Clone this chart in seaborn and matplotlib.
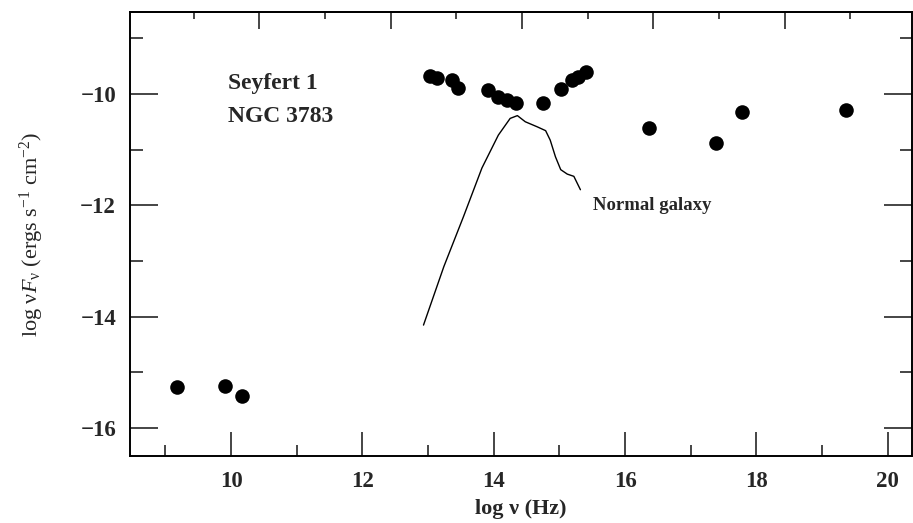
import matplotlib
matplotlib.use("Agg")
import matplotlib.pyplot as plt
from matplotlib.ticker import MultipleLocator, NullFormatter, FixedLocator
import seaborn as sns
import pandas as pd

# Observed SED points of NGC 3783
log_nu = [9.18, 9.91, 10.17,
          13.03, 13.14, 13.36, 13.46, 13.91, 14.07, 14.20, 14.34, 14.75,
          15.03, 15.19, 15.29, 15.40,
          16.37, 17.38, 17.78, 19.37]
log_nuFnu = [-15.26, -15.24, -15.42,
             -9.67, -9.72, -9.75, -9.90, -9.93, -10.05, -10.11, -10.16, -10.16,
             -9.92, -9.75, -9.69, -9.60,
             -10.62, -10.89, -10.33, -10.29]

# Normal galaxy template curve
gal_nu = [12.93, 13.24, 13.54, 13.82, 14.07, 14.25, 14.36, 14.48, 14.66, 14.79,
          14.86, 14.94, 15.02, 15.12, 15.22, 15.32]
gal_flux = [-14.15, -13.10, -12.20, -11.33, -10.74, -10.44, -10.39, -10.50, -10.59,
            -10.66, -10.83, -11.13, -11.36, -11.44, -11.48, -11.72]

x_ticks = [10, 12, 14, 16, 18, 20]
y_ticks = [-10, -12, -14, -16]

pts = pd.DataFrame({"x": log_nu, "y": log_nuFnu})
gal = pd.DataFrame({"x": gal_nu, "y": gal_flux})

sns.set_theme(style="ticks")
plt.rcParams["font.family"] = ["Liberation Serif", "DejaVu Serif"]
plt.rcParams["mathtext.fontset"] = "custom"
plt.rcParams["mathtext.rm"] = "Liberation Serif"
plt.rcParams["mathtext.it"] = "Liberation Serif:italic"
plt.rcParams["mathtext.bf"] = "Liberation Serif:bold"
plt.rcParams["axes.unicode_minus"] = True

fig = plt.figure(figsize=(9.13, 5.23), dpi=100)
ax = fig.add_axes([130 / 913, 1 - 456 / 523, (912 - 130) / 913, (456 - 12) / 523])

sns.lineplot(data=gal, x="x", y="y", sort=False, estimator=None, color="black",
             linewidth=1.0, ax=ax)
sns.scatterplot(data=pts, x="x", y="y", color="black", s=110, edgecolor="black",
                linewidth=0, ax=ax)

ax.set_xlim(8.46, 20.37)
ax.set_ylim(-16.5, -8.53)
ax.set_xticks(x_ticks)
ax.set_yticks(y_ticks)
ax.xaxis.set_minor_locator(MultipleLocator(1))
ax.yaxis.set_minor_locator(MultipleLocator(1))
ax.set_xticklabels([str(v) for v in x_ticks], fontweight="bold", fontsize=16.5)
ax.set_yticklabels(["\u2212" + str(abs(v)) for v in y_ticks], fontweight="bold",
                   fontsize=16.5)

ax.tick_params(axis="x", which="major", direction="in", length=17, width=1.2,
               pad=11, top=False, bottom=True)
ax.tick_params(axis="x", which="minor", direction="in", length=8, width=1.2,
               top=False, bottom=True)
ax.tick_params(axis="y", which="major", direction="in", length=20, width=1.2,
               pad=10, left=True, right=True)
ax.tick_params(axis="y", which="minor", direction="in", length=9, width=1.2,
               left=True, right=True)

# top axis ticks (offset in the original scan)
sec = ax.secondary_xaxis("top", functions=(lambda v: v - 0.43, lambda v: v + 0.43))
sec.xaxis.set_major_locator(FixedLocator([8, 10, 12, 14, 16, 18, 20]))
sec.xaxis.set_minor_locator(FixedLocator([9, 11, 13, 15, 17, 19]))
sec.xaxis.set_major_formatter(NullFormatter())
sec.tick_params(axis="x", which="major", direction="in", length=12, width=1.2)
sec.tick_params(axis="x", which="minor", direction="in", length=5, width=1.2)

for s in ax.spines.values():
    s.set_linewidth(1.4)
    s.set_color("black")
for s in sec.spines.values():
    s.set_linewidth(1.4)

ax.set_xlabel("log \u03bd (Hz)", fontsize=16, fontweight="bold", labelpad=5)
ax.set_ylabel(r"log ν$\it{F}_{\rm ν}$ (ergs s$^{-1}$ cm$^{-2}$)", fontsize=16,
              labelpad=25)

ax.text(9.95, -9.82, "Seyfert 1", fontsize=17, fontweight="bold", va="center",
        ha="left")
ax.text(9.95, -10.41, "NGC 3783", fontsize=17, fontweight="bold", va="center",
        ha="left")
ax.text(15.51, -12.01, "Normal galaxy", fontsize=13.5, fontweight="bold",
        va="center", ha="left")

fig.savefig("out.png", dpi=100, facecolor="white")
